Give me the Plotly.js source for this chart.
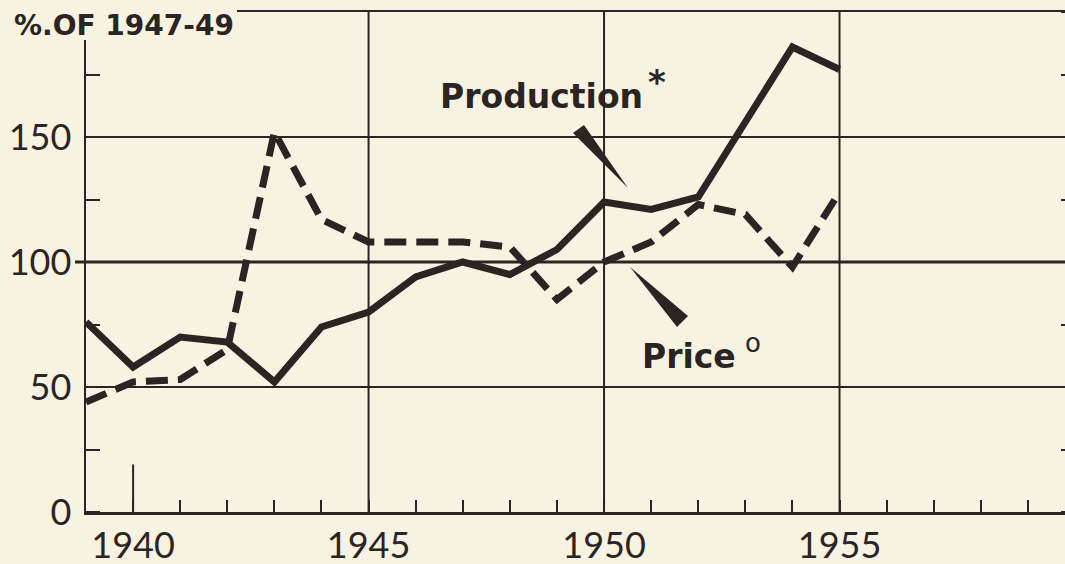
<!DOCTYPE html>
<html><head><meta charset="utf-8">
<script src="https://cdn.plot.ly/plotly-3.0.1.min.js"></script>
<style>html,body{margin:0;padding:0;overflow:hidden;background:#f7f2e2;width:1065px;height:564px}</style>
</head><body><div id="chart"></div>
<script>
// ---- data ----
const years = [1939,1940,1941,1942,1943,1944,1945,1946,1947,1948,1949,1950,1951,1952,1953,1954,1955];
const production = [76, 58, 70, 68, 52, 74, 80, 94, 100, 95, 105, 124, 121, 126, 156, 186, 177];
const price = [44, 52, 53, 65, 152, 117, 108, 108, 108, 106, 85, 100, 108, 123, 119, 98, 128];
const xTickVals = [1940, 1945, 1950, 1955];
const xTickText = ['1940', '1945', '1950', '1955'];
const yTickVals = [0, 50, 100, 150];
const yTickText = ['0', '50', '100', '150'];
const gridYears = [1945, 1950, 1955];
const titleText = '%.OF 1947-49';
const productionLabel = 'Production';
const priceLabel = 'Price';

// ---- geometry ----
const INK = '#2a2523', BG = '#f7f2e2';
const W = 1075, H = 564, L = 86, T = 12, B = 52;
const PW = W - L, PH = H - T - B;
const X0 = 1939, X1 = 1960, Y0 = 0, Y1 = 200;
const px2x = px => X0 + (px - L) / PW * (X1 - X0);
const py2y = py => Y0 + (H - B - py) / PH * (Y1 - Y0);
const pxP = px => (px - L) / PW;
const pyP = py => (H - B - py) / PH;
const wedge = (tx, ty, ax, ay, bx, by) =>
  `M${px2x(tx)},${py2y(ty)} L${px2x(ax)},${py2y(ay)} L${px2x(bx)},${py2y(by)} Z`;

const numFont = {family: 'Lato, "Open Sans", sans-serif', size: 36, color: INK};
const boldFont = (s) => ({family: '"DejaVu Sans", sans-serif', size: s, color: INK, weight: 'bold'});

const traces = [
  {x: years, y: price, type: 'scatter', mode: 'lines', name: 'Price',
   line: {color: INK, width: 7, dash: '22px,10px'}},
  {x: years, y: production, type: 'scatter', mode: 'lines', name: 'Production',
   line: {color: INK, width: 7}}
];

const shapes = [];
gridYears.forEach(yr => shapes.push({type: 'line', xref: 'x', yref: 'paper', x0: yr, x1: yr, y0: 0, y1: 1,
  line: {color: INK, width: 2}, layer: 'below'}));
// heavier 100 line extending past the axis
shapes.push({type: 'line', xref: 'paper', yref: 'paper', x0: pxP(75), x1: 1, y0: (100 - Y0) / (Y1 - Y0), y1: (100 - Y0) / (Y1 - Y0),
  line: {color: INK, width: 3}, layer: 'below'});
// tall 1940 tick
shapes.push({type: 'line', xref: 'x', yref: 'y', x0: 1940, x1: 1940, y0: 0, y1: 19, line: {color: INK, width: 2}});
// cover corner behind title
shapes.push({type: 'rect', xref: 'paper', yref: 'paper', x0: pxP(-5), x1: pxP(237), y0: pyP(40), y1: pyP(-5),
  fillcolor: BG, line: {width: 0}, layer: 'above'});
// pointer wedges
shapes.push({type: 'path', xref: 'x', yref: 'y', path: wedge(628, 188, 584, 125, 573, 133), fillcolor: INK, line: {width: 0}});
shapes.push({type: 'path', xref: 'x', yref: 'y', path: wedge(630, 267, 688, 316, 677, 327), fillcolor: INK, line: {width: 0}});

const annotations = [
  {text: '<b>' + titleText + '</b>', xref: 'paper', yref: 'paper', x: pxP(12), y: pyP(25), xanchor: 'left', yanchor: 'middle',
   showarrow: false, font: boldFont(28)},
  {text: '<b>' + productionLabel + '</b>', xref: 'paper', yref: 'paper', x: pxP(438), y: pyP(96), xanchor: 'left', yanchor: 'middle',
   showarrow: false, font: boldFont(33)},
  {text: '<b>*</b>', xref: 'paper', yref: 'paper', x: pxP(657), y: pyP(82), xanchor: 'center', yanchor: 'middle',
   showarrow: false, font: boldFont(34)},
  {text: '<b>' + priceLabel + '</b>', xref: 'paper', yref: 'paper', x: pxP(640), y: pyP(356), xanchor: 'left', yanchor: 'middle',
   showarrow: false, font: boldFont(33)},
  {text: 'o', xref: 'paper', yref: 'paper', x: pxP(753), y: pyP(343), xanchor: 'center', yanchor: 'middle',
   showarrow: false, font: {family: '"DejaVu Sans", sans-serif', size: 26, color: INK}}
];

const layout = {
  width: W, height: H,
  margin: {l: L, r: 0, t: T, b: B, pad: 0},
  paper_bgcolor: BG, plot_bgcolor: BG,
  showlegend: false, hovermode: false,
  xaxis: {range: [X0, X1], tickmode: 'array', tickvals: xTickVals, ticktext: xTickText,
    ticks: 'inside', ticklen: 12, tickwidth: 2, tickcolor: INK,
    minor: {dtick: 1, tick0: 1939, ticks: 'inside', ticklen: 12, tickwidth: 2, tickcolor: INK, showgrid: false},
    showgrid: false, zeroline: false, showline: true, linecolor: INK, linewidth: 2.5, mirror: true,
    tickfont: numFont, ticklabelstandoff: 0, fixedrange: true},
  yaxis: {range: [Y0, Y1], tickmode: 'array', tickvals: yTickVals, ticktext: yTickText,
    ticks: '', showgrid: true, gridcolor: INK, gridwidth: 2, zeroline: false,
    showline: true, linecolor: INK, linewidth: 2.5, mirror: 'ticks',
    minor: {dtick: 25, tick0: 0, ticks: 'inside', ticklen: 14, tickwidth: 2, tickcolor: INK, showgrid: false},
    tickfont: numFont, ticklabelstandoff: 5, fixedrange: true},
  shapes: shapes,
  annotations: annotations
};

Plotly.newPlot('chart', traces, layout, {staticPlot: true, displayModeBar: false});
</script>
</body></html>
